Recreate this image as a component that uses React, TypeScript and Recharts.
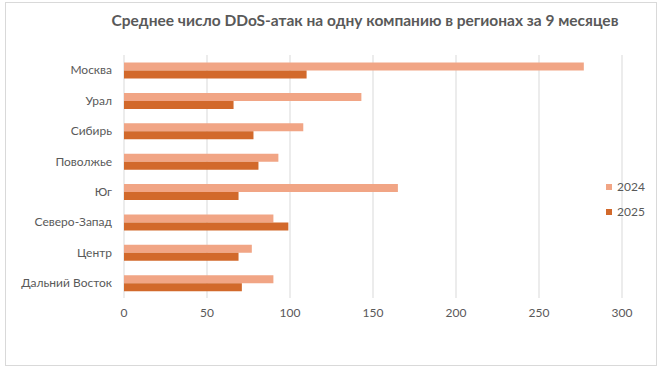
import React from "react";
import { BarChart, Bar, XAxis, YAxis, CartesianGrid, Legend } from "recharts";

const regions = [
  "Москва",
  "Урал",
  "Сибирь",
  "Поволжье",
  "Юг",
  "Северо-Запад",
  "Центр",
  "Дальний Восток",
];
const values2024 = [277, 143, 108, 93, 165, 90, 77, 90];
const values2025 = [110, 66, 78, 81, 69, 99, 69, 71];
const xTicks = [0, 50, 100, 150, 200, 250, 300];

const LIGHT = "#F1A585";
const DARK = "#D2692B";
const FONT = "Lato, 'Open Sans', sans-serif";

const data = regions.map((r, i) => ({
  region: r,
  y2024: values2024[i],
  y2025: values2025[i],
}));

function LegendBox() {
  const items = [
    { label: "2024", color: LIGHT },
    { label: "2025", color: DARK },
  ];
  return (
    <div style={{ fontFamily: FONT, fontSize: 12, color: "#595959" }}>
      {items.map((it) => (
        <div
          key={it.label}
          style={{ display: "flex", alignItems: "center", height: 25 }}
        >
          <span
            style={{
              width: 6,
              height: 6,
              background: it.color,
              marginRight: 5,
              display: "inline-block",
            }}
          />
          {it.label}
        </div>
      ))}
    </div>
  );
}

export default function App() {
  return (
    <div style={{ position: "absolute", left: 0, top: 0, width: 661, height: 369, background: "#fff" }}>
      <div
        style={{
          position: "absolute",
          left: 5,
          top: 2,
          width: 650,
          height: 362,
          border: "1px solid #D9D9D9",
        }}
      />
      <div
        style={{
          position: "absolute",
          left: 100,
          top: 11,
          width: 530,
          textAlign: "center",
          fontFamily: FONT,
          fontWeight: 700,
          fontSize: 15.5,
          color: "#595959",
        }}
      >
        Среднее число DDoS-атак на одну компанию в регионах за 9 месяцев
      </div>
      <div style={{ position: "absolute", left: 0, top: 0 }}>
        <BarChart
          width={661}
          height={369}
          data={data}
          layout="vertical"
          margin={{ top: 55, right: 39, bottom: 41, left: 0 }}
          barCategoryGap="25%"
          barGap={0}
        >
          <CartesianGrid horizontal={false} stroke="#D9D9D9" />
          <XAxis
            type="number"
            domain={[0, 300]}
            ticks={xTicks}
            axisLine={false}
            tickLine={false}
            tickSize={0}
            tickMargin={10}
            height={30}
            tick={{ fontSize: 12, fill: "#595959", fontFamily: FONT }}
          />
          <YAxis
            type="category"
            dataKey="region"
            width={124}
            axisLine={false}
            tickLine={false}
            tickSize={0}
            tickMargin={12}
            tick={{ fontSize: 12, fill: "#595959", fontFamily: FONT }}
          />
          <Legend
            layout="horizontal"
            align="center"
            verticalAlign="middle"
            content={<LegendBox />}
            wrapperStyle={{ left: 606, top: 174, width: 50 }}
          />
          <Bar dataKey="y2024" name="2024" fill={LIGHT} isAnimationActive={false} />
          <Bar dataKey="y2025" name="2025" fill={DARK} isAnimationActive={false} />
        </BarChart>
      </div>
    </div>
  );
}
